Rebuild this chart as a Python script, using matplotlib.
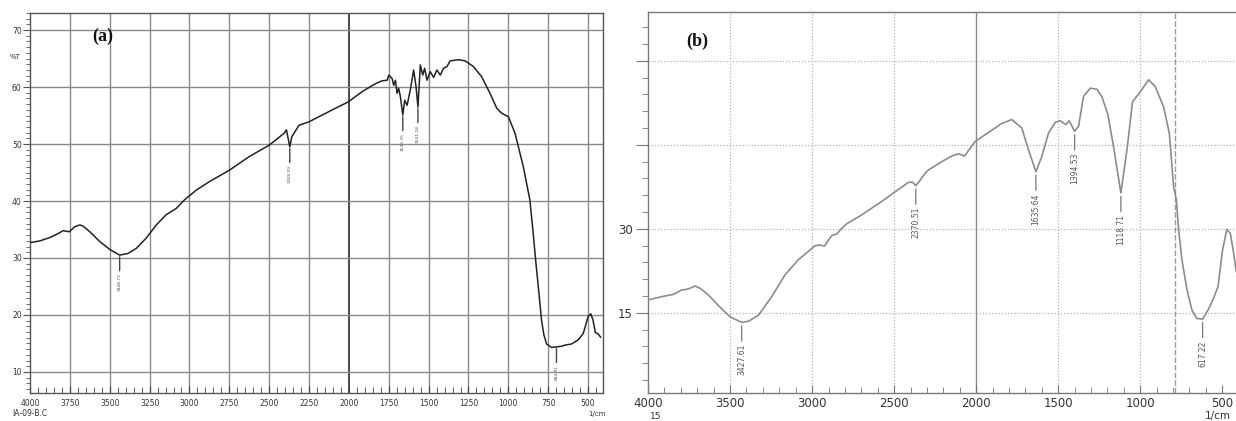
import matplotlib
matplotlib.use("Agg")
from matplotlib import pyplot as plt
from matplotlib.ticker import MultipleLocator, FixedLocator
import numpy as np

# ---- spectrum (a): wavenumber (1/cm) and %T
wn_a = [4000, 3938, 3875, 3844, 3823, 3792, 3754, 3719, 3688, 3667, 3625, 3563,
        3500, 3438, 3385, 3333, 3271, 3208, 3146, 3083, 3031, 2958, 2875, 2750,
        2625, 2500, 2406, 2392, 2379, 2371, 2358, 2344, 2313, 2250, 2188, 2104,
        2004, 1917, 1833, 1792, 1760, 1750, 1729, 1719, 1708, 1698, 1688, 1677,
        1662, 1650, 1635, 1615, 1594, 1579, 1567, 1552, 1537, 1525, 1510, 1490,
        1469, 1448, 1427, 1406, 1385, 1365, 1312, 1271, 1219, 1167, 1115, 1073,
        1042, 1000, 958, 906, 865, 844, 829, 808, 792, 777, 760, 729, 698, 667,
        646, 604, 563, 531, 517, 500, 483, 469, 454, 438, 421]
t_a = [32.7, 33.0, 33.6, 34.0, 34.3, 34.8, 34.6, 35.5, 35.8, 35.6, 34.6, 32.9,
       31.5, 30.5, 30.8, 31.7, 33.5, 35.8, 37.6, 38.7, 40.2, 41.9, 43.4, 45.4,
       47.8, 49.8, 51.9, 52.5, 50.7, 49.5, 51.3, 51.9, 53.3, 53.9, 54.8, 56.0,
       57.4, 59.2, 60.6, 61.1, 61.2, 62.1, 61.5, 60.3, 61.2, 58.9, 59.8, 58.3,
       55.1, 57.7, 56.8, 59.5, 63.0, 60.1, 56.5, 63.9, 62.1, 63.3, 61.2, 62.7,
       61.7, 63.0, 62.1, 63.3, 63.6, 64.6, 64.8, 64.6, 63.6, 61.8, 58.9, 56.3,
       55.4, 54.8, 51.9, 46.0, 40.2, 34.3, 29.7, 23.8, 19.1, 16.5, 14.9, 14.3,
       14.4, 14.5, 14.7, 14.9, 15.6, 16.7, 18.0, 19.7, 20.2, 19.1, 16.9, 16.7, 16.1]
peaks_a = [(3438, 30.5, "3448.72"), (2371, 49.5, "2368.59"),
           (1662, 55.1, "1643.35"), (1567, 56.5, "1541.18"), (698, 14.4, "684.91")]

# ---- spectrum (b)
wn_b = [4000, 3917, 3845, 3795, 3764, 3744, 3713, 3683, 3632, 3571, 3500, 3429,
        3388, 3327, 3246, 3165, 3083, 3022, 2982, 2951, 2925, 2900, 2880, 2850,
        2819, 2789, 2697, 2575, 2413, 2386, 2368, 2341, 2311, 2291, 2209, 2148,
        2108, 2071, 2006, 1925, 1844, 1783, 1722, 1681, 1636, 1600, 1559, 1518,
        1488, 1453, 1433, 1400, 1376, 1346, 1305, 1264, 1234, 1197, 1163, 1118,
        1081, 1047, 1006, 949, 909, 858, 823, 797, 780, 766, 746, 715, 685, 655,
        620, 587, 553, 526, 498, 472, 451, 431, 415]
t_b = [17.3, 17.9, 18.3, 19.1, 19.2, 19.4, 19.8, 19.4, 18.2, 16.3, 14.3, 13.3,
       13.5, 14.6, 17.9, 21.8, 24.5, 26.0, 27.0, 27.1, 26.9, 28.0, 28.8, 29.1,
       30.1, 30.9, 32.5, 34.9, 38.3, 38.3, 37.7, 38.7, 39.9, 40.5, 42.0, 43.0,
       43.4, 43.0, 45.6, 47.2, 48.8, 49.5, 48.0, 44.1, 40.2, 42.9, 47.1, 49.0,
       49.3, 48.6, 49.3, 47.4, 48.3, 53.6, 55.1, 54.9, 53.6, 50.4, 44.7, 36.4,
       44.1, 52.7, 54.2, 56.6, 55.4, 51.8, 47.1, 37.6, 35.2, 29.8, 24.5, 19.1,
       15.5, 14.0, 13.9, 15.5, 17.6, 19.7, 26.3, 29.9, 29.2, 25.7, 22.4]
peaks_b = [(3429, 13.3, "3427.61"), (2368, 37.7, "2370.51"), (1636, 40.2, "1635.64"),
           (1400, 47.4, "1394.53"), (1118, 36.4, "1118.71"), (620, 13.9, "617.22")]

fig = plt.figure(figsize=(12.36, 4.21), dpi=100)

# ================= panel (a)
ax = fig.add_axes([0.0243, 0.0665, 0.4636, 0.9026])
ax.set_xlim(4000, 406)
ax.set_ylim(6.3, 73)
for v in range(3750, 400, -250):
    if v == 2000:
        ax.axvline(v, color="#4a4a4a", lw=1.4, zorder=1)
    else:
        ax.axvline(v, color="#8a8a8a", lw=1.0, zorder=1)
for h in range(10, 71, 10):
    ax.axhline(h, color="#8a8a8a", lw=1.0, zorder=1)
ax.plot(wn_a, t_a, color="#222222", lw=1.1, zorder=3)
for w, t, lab in peaks_a:
    ax.annotate(lab, xy=(w, t - 0.3), xytext=(0, -12), textcoords="offset points",
                rotation=90, ha="center", va="top", fontsize=3.2, color="#555555",
                arrowprops=dict(arrowstyle="-", color="#444444", lw=1.0,
                                shrinkA=0, shrinkB=0))
ax.xaxis.set_major_locator(FixedLocator(list(range(4000, 400, -250))))
ax.xaxis.set_minor_locator(MultipleLocator(50))
ax.yaxis.set_major_locator(MultipleLocator(10))
ax.yaxis.set_minor_locator(MultipleLocator(1))
ax.tick_params(axis="x", which="both", direction="in", labelsize=5.5,
               labelcolor="#333333", color="#444444", pad=4)
ax.tick_params(axis="x", which="major", length=5)
ax.tick_params(axis="x", which="minor", length=4)
ax.tick_params(axis="y", which="both", direction="out", labelsize=5.5,
               labelcolor="#333333", color="#555555", pad=1)
ax.tick_params(axis="y", which="major", length=5)
ax.tick_params(axis="y", which="minor", length=3)
for s in ax.spines.values():
    s.set_color("#555555")
    s.set_linewidth(1.0)
ax.text(0.108, 0.927, "(a)", transform=ax.transAxes, fontsize=13,
        fontweight="bold", family="Liberation Serif", color="#111111")
fig.text(15 / 1236, 1 - 57 / 421, "%T", fontsize=5, color="#333333",
         ha="center", va="center")
fig.text(30 / 1236, 1 - 414 / 421, "IA-09-B.C", fontsize=5.5, color="#333333",
         ha="center", va="center")
fig.text(597 / 1236, 1 - 414 / 421, "1/cm", fontsize=5, color="#333333",
         ha="center", va="center")

# ================= panel (b)
bx = fig.add_axes([0.5243, 0.0665, 0.48, 0.905])
bx.set_xlim(4000, 384)
bx.set_ylim(0.7, 68.7)
for v in [3500, 3000, 2500, 1500, 1000]:
    bx.axvline(v, color="#b5b5b5", lw=0.9, ls=(0, (1, 1.5)), zorder=1)
bx.axvline(2000, color="#8a8a8a", lw=1.0, zorder=1)
bx.axvline(790, color="#9a9a9a", lw=1.0, ls=(0, (4, 1.5)), zorder=1)
for h in [15, 30, 45, 60]:
    bx.axhline(h, color="#b5b5b5", lw=0.9, ls=(0, (1, 1.5)), zorder=1)
bx.plot(wn_b, t_b, color="#8c8c8c", lw=1.2, zorder=3)
for w, t, lab in peaks_b:
    bx.annotate(lab, xy=(w, t - 0.6), xytext=(0, -13), textcoords="offset points",
                rotation=90, ha="center", va="top", fontsize=5.5, color="#555555",
                arrowprops=dict(arrowstyle="-", color="#777777", lw=0.9,
                                shrinkA=0, shrinkB=0))
bx.xaxis.set_major_locator(FixedLocator([4000, 3500, 3000, 2500, 2000, 1500, 1000, 500]))
bx.xaxis.set_minor_locator(MultipleLocator(100))
bx.yaxis.set_major_locator(FixedLocator([15, 30, 45, 60]))
bx.set_yticklabels(["15", "30", "", ""])
bx.yaxis.set_minor_locator(MultipleLocator(3))
bx.tick_params(axis="x", which="both", direction="in", labelsize=8.5,
               labelcolor="#333333", color="#777777", pad=3)
bx.tick_params(axis="x", which="major", length=6)
bx.tick_params(axis="x", which="minor", length=4)
bx.tick_params(axis="y", which="both", direction="out", labelsize=8.5,
               labelcolor="#333333", color="#777777", pad=2)
bx.tick_params(axis="y", which="major", length=9)
bx.tick_params(axis="y", which="minor", length=4)
for s in bx.spines.values():
    s.set_color("#7a7a7a")
    s.set_linewidth(1.0)
bx.spines["right"].set_visible(False)
bx.text(0.065, 0.91, "(b)", transform=bx.transAxes, fontsize=13,
        fontweight="bold", family="Liberation Serif", color="#111111")
fig.text(656 / 1236, 0.0, "15", fontsize=6.5, color="#333333",
         ha="center", va="bottom")
fig.text(1218 / 1236, 1 - 416 / 421, "1/cm", fontsize=7.5, color="#333333",
         ha="center", va="center")

fig.savefig("out.png", dpi=100)
